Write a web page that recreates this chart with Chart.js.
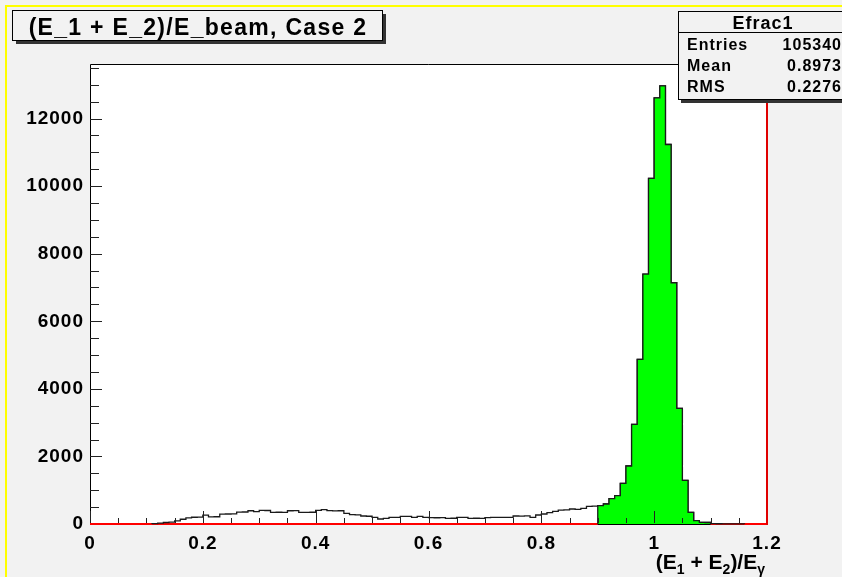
<!DOCTYPE html>
<html>
<head>
<meta charset="utf-8">
<script src="https://cdn.jsdelivr.net/npm/chart.js@4.4.1/dist/chart.umd.min.js"></script>
<style>
  html, body { margin: 0; padding: 0; background: #f2f2f2; }
  canvas { display: block; }
</style>
</head>
<body>
<canvas id="efrac" width="842" height="577"></canvas>
<script>
// Efrac1: (E1 + E2)/E_gamma, 120 bins of width 0.01 from 0 to 1.2
const binWidth = 0.01;
const counts = [
  0, 0, 0, 0, 0, 0, 0, 0, 0, 0,
  0, 12, 25, 45, 55, 90, 140, 180, 200, 205,
  262, 210, 215, 290, 296, 300, 350, 355, 392, 365,
  404, 400, 345, 348, 342, 392, 394, 345, 342, 348,
  404, 424, 394, 390, 392, 315, 276, 272, 237, 230,
  197, 148, 168, 197, 195, 227, 225, 197, 227, 197,
  187, 185, 190, 168, 170, 197, 195, 168, 170, 166,
  190, 195, 197, 196, 199, 237, 235, 238, 197, 266,
  296, 335, 375, 410, 416, 444, 434, 463, 522, 530,
  542, 592, 750, 838, 1203, 1716, 2949, 4872, 7396, 10228,
  12612, 12967, 11233, 7140, 3422, 1292, 345, 99, 49, 45,
  12, 8, 6, 5, 4, 3, 0, 0, 0, 0
];
// bins filled in green (first bin, one past last bin)
const greenBins = [90, 110];
const yMax = 13615;
const xTicks = [0, 0.2, 0.4, 0.6, 0.8, 1, 1.2];
const yTicks = [0, 2000, 4000, 6000, 8000, 10000, 12000];

const histTitle = '(E_1 + E_2)/E_beam, Case 2';
const statsTitle = 'Efrac1';
const statsLabels = ['Entries', 'Mean', 'RMS'];
const statsValues = ['105340', '0.8973', '0.2276'];

const FONT = '"Liberation Sans", Arial, sans-serif';
const edge = i => +(i * binWidth).toFixed(2);

// histogram outline for bins [from, to) as a stepped path closed down to zero
function stepPoints(from, to) {
  const pts = [{ x: edge(from), y: 0 }];
  for (let i = from; i < to; i++) pts.push({ x: edge(i), y: counts[i] });
  pts.push({ x: edge(to), y: 0 });
  return pts;
}

let first = counts.findIndex(c => c > 0);
let last = counts.length - 1;
while (last > 0 && counts[last] === 0) last--;

// empty companion histogram along the x axis, hidden under the green range
const baseline = [];
for (let i = 0; i <= counts.length; i++) {
  const hidden = i > greenBins[0] && i < greenBins[1];
  baseline.push({ x: edge(i), y: hidden ? null : 0 });
}

const rootStyle = {
  id: 'rootStyle',
  beforeDraw(chart) {
    const { ctx, width, height, chartArea: a } = chart;
    ctx.save();
    ctx.fillStyle = '#f2f2f2';
    ctx.fillRect(0, 0, width, height);
    ctx.fillStyle = '#ffff00';
    ctx.fillRect(5, 5, width - 5, 2);
    ctx.fillRect(5, 5, 2, height - 5);
    ctx.fillStyle = '#ffffff';
    ctx.fillRect(a.left, a.top, a.right - a.left, a.bottom - a.top);
    ctx.strokeStyle = '#000';
    ctx.lineWidth = 1;
    ctx.beginPath();
    ctx.moveTo(a.left + 0.5, a.bottom + 0.5);
    ctx.lineTo(a.left + 0.5, a.top + 0.5);
    ctx.lineTo(a.right, a.top + 0.5);
    ctx.moveTo(a.left, a.bottom + 0.5);
    ctx.lineTo(a.right, a.bottom + 0.5);
    ctx.stroke();
    ctx.restore();
    // wide bold look for the axis labels
    ctx.letterSpacing = '1px';
  },
  afterDatasetsDraw(chart) {
    const { ctx, chartArea: a, scales: { x, y } } = chart;
    ctx.save();
    ctx.strokeStyle = '#222';
    ctx.lineWidth = 1;
    ctx.beginPath();
    for (let v = 500; v <= yMax; v += 500) {
      const py = Math.round(y.getPixelForValue(v)) + 0.5;
      const len = v % 2000 === 0 ? 12 : 9;
      ctx.moveTo(a.left, py);
      ctx.lineTo(a.left + len, py);
    }
    for (let k = 0; k <= 24; k++) {
      const px = Math.round(x.getPixelForValue(k * 0.05)) + 0.5;
      const len = k % 4 === 0 ? 13 : 6;
      ctx.moveTo(px, a.bottom - 1);
      ctx.lineTo(px, a.bottom - len);
    }
    ctx.stroke();
    ctx.strokeStyle = '#e00000';
    ctx.lineWidth = 2;
    ctx.beginPath();
    ctx.moveTo(a.right, a.top);
    ctx.lineTo(a.right, a.bottom + 1);
    ctx.stroke();
    ctx.restore();
  },
  afterDraw(chart) {
    const { ctx } = chart;
    ctx.save();
    ctx.letterSpacing = '0px';

    // title pave
    ctx.fillStyle = '#333';
    ctx.fillRect(16, 14, 370, 30);
    ctx.fillStyle = '#f2f2f2';
    ctx.fillRect(12.5, 10.5, 370, 30);
    ctx.strokeStyle = '#000';
    ctx.lineWidth = 1;
    ctx.strokeRect(12.5, 10.5, 370, 30);
    ctx.fillStyle = '#000';
    ctx.font = 'bold 23px ' + FONT;
    ctx.letterSpacing = '1.3px';
    ctx.textAlign = 'center';
    ctx.textBaseline = 'alphabetic';
    ctx.fillText(histTitle, 198, 35);

    // stats pave
    ctx.letterSpacing = '0px';
    ctx.fillStyle = '#333';
    ctx.fillRect(681, 14, 200, 89);
    ctx.fillStyle = '#f2f2f2';
    ctx.fillRect(678.5, 11.5, 200, 88);
    ctx.strokeRect(678.5, 11.5, 200, 88);
    ctx.beginPath();
    ctx.moveTo(678.5, 32.5);
    ctx.lineTo(842, 32.5);
    ctx.stroke();
    ctx.fillStyle = '#000';
    ctx.font = 'bold 18px ' + FONT;
    ctx.letterSpacing = '1px';
    ctx.textAlign = 'center';
    ctx.fillText(statsTitle, 763, 29);
    ctx.font = 'bold 16px ' + FONT;
    statsLabels.forEach((lab, i) => {
      const by = 50 + i * 21;
      ctx.textAlign = 'left';
      ctx.fillText(lab, 687, by);
      ctx.textAlign = 'right';
      ctx.fillText(statsValues[i], 842, by);
    });

    // x axis title with subscripts
    ctx.letterSpacing = '0px';
    ctx.textAlign = 'left';
    const parts = [
      ['(E', false], ['1', true], [' + E', false], ['2', true], [')/E', false], ['\u03b3', true]
    ];
    const mainFont = 'bold 21px ' + FONT;
    const subFont = 'bold 14px ' + FONT;
    let total = 0;
    parts.forEach(([t, sub]) => {
      ctx.font = sub ? subFont : mainFont;
      total += ctx.measureText(t).width;
    });
    let tx = 765 - total;
    parts.forEach(([t, sub]) => {
      ctx.font = sub ? subFont : mainFont;
      ctx.fillText(t, tx, sub ? 574 : 569);
      tx += ctx.measureText(t).width;
    });
    ctx.restore();
  }
};

const tickFont = { family: FONT, size: 19, weight: 'bold' };

new Chart(document.getElementById('efrac'), {
  type: 'line',
  data: {
    datasets: [
      {
        label: 'green',
        data: stepPoints(greenBins[0], greenBins[1]),
        stepped: true,
        fill: 'origin',
        backgroundColor: '#00ff00',
        borderColor: '#1a1a1a',
        borderWidth: 1.3,
        pointRadius: 0,
        clip: 2,
        order: 1
      },
      {
        label: 'Efrac1',
        data: stepPoints(first, last + 1),
        stepped: true,
        fill: false,
        borderColor: '#1a1a1a',
        borderWidth: 1.3,
        pointRadius: 0,
        clip: 2,
        order: 2
      },
      {
        label: 'empty',
        data: baseline,
        fill: false,
        spanGaps: false,
        borderColor: '#ff0000',
        borderWidth: 2,
        pointRadius: 0,
        clip: 2,
        order: 3
      }
    ]
  },
  options: {
    responsive: false,
    animation: false,
    devicePixelRatio: 1,
    layout: { padding: { left: 0, top: 64, right: 75, bottom: 0 } },
    plugins: { legend: { display: false }, tooltip: { enabled: false }, title: { display: false } },
    scales: {
      x: {
        type: 'linear',
        min: 0,
        max: 1.2,
        grid: { display: false, drawTicks: false },
        border: { display: false },
        ticks: {
          color: '#000',
          font: tickFont,
          padding: 8,
          maxRotation: 0,
          autoSkip: false,
          callback: v => String(+v.toFixed(1))
        },
        afterBuildTicks: s => { s.ticks = xTicks.map(v => ({ value: v })); },
        afterFit: s => { s.height = 53; }
      },
      y: {
        min: 0,
        max: yMax,
        grid: { display: false, drawTicks: false },
        border: { display: false },
        ticks: {
          color: '#000',
          font: tickFont,
          padding: 6,
          autoSkip: false,
          callback: v => String(v)
        },
        afterBuildTicks: s => { s.ticks = yTicks.map(v => ({ value: v })); },
        afterFit: s => { s.width = 90; }
      }
    }
  },
  plugins: [rootStyle]
});
</script>
</body>
</html>
